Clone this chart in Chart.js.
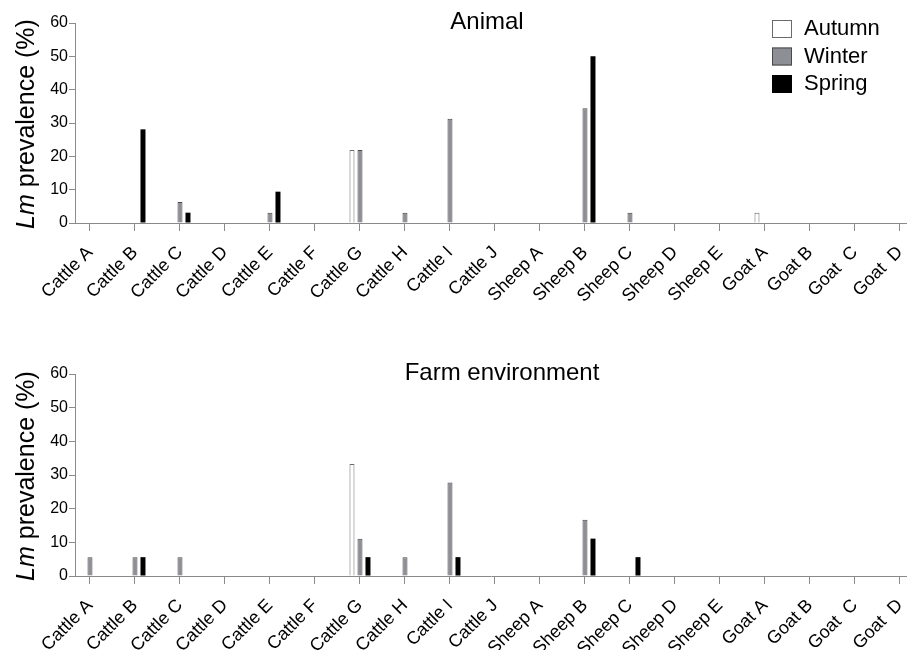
<!DOCTYPE html>
<html>
<head>
<meta charset="utf-8">
<script src="https://cdn.jsdelivr.net/npm/chart.js@4/dist/chart.umd.min.js"></script>
<style>
  html, body { margin: 0; padding: 0; background: #fff; }
  #wrap { position: relative; width: 907px; height: 650px; }
  canvas { position: absolute; left: 0; }
  #top { top: 0; }
  #bottom { top: 325px; }
</style>
</head>
<body>
<div id="wrap">
  <canvas id="top" width="907" height="325"></canvas>
  <canvas id="bottom" width="907" height="325"></canvas>
</div>
<script>
// data
const categories = ['Cattle A', 'Cattle B', 'Cattle C', 'Cattle D', 'Cattle E', 'Cattle F', 'Cattle G',
  'Cattle H', 'Cattle I', 'Cattle J', 'Sheep A', 'Sheep B', 'Sheep C', 'Sheep D', 'Sheep E',
  'Goat A', 'Goat B', 'Goat  C', 'Goat  D'];
const seasons = ['Autumn', 'Winter', 'Spring'];

const animalAutumn = [0, 0, 0, 0, 0, 0, 21.9, 0, 0, 0, 0, 0, 0, 0, 0, 3.1, 0, 0, 0];
const animalWinter = [0, 0, 6.3, 0, 3.1, 0, 21.9, 3.1, 31.3, 0, 0, 34.4, 3.1, 0, 0, 0, 0, 0, 0];
const animalSpring = [0, 28.1, 3.1, 0, 9.4, 0, 0, 0, 0, 0, 0, 50, 0, 0, 0, 0, 0, 0, 0];

const farmAutumn = [0, 0, 0, 0, 0, 0, 33.3, 0, 0, 0, 0, 0, 0, 0, 0, 0, 0, 0, 0];
const farmWinter = [5.6, 5.6, 5.6, 0, 0, 0, 11.1, 5.6, 27.8, 0, 0, 16.7, 0, 0, 0, 0, 0, 0, 0];
const farmSpring = [0, 5.6, 0, 0, 0, 0, 5.6, 0, 5.6, 0, 0, 11.1, 5.6, 0, 0, 0, 0, 0, 0];

const yTicks = [0, 10, 20, 30, 40, 50, 60];

const FONT = "'Liberation Sans', Arial, sans-serif";
const AXIS = '#8a8a8a';

const styles = [
  { backgroundColor: '#ffffff', borderColor: '#6a6a6a', borderWidth: 1 },
  { backgroundColor: '#8e8e96', borderColor: '#4a4a4a', borderWidth: 1 },
  { backgroundColor: '#000000', borderColor: '#000000', borderWidth: 0 }
];

function makeDatasets(series) {
  return series.map((vals, k) => ({
    label: seasons[k],
    data: vals.map((v, i) => ({ x: i, y: v })),
    backgroundColor: styles[k].backgroundColor,
    borderColor: styles[k].borderColor,
    borderWidth: styles[k].borderWidth,
    categoryPercentage: 0.533,
    barPercentage: 0.625
  }));
}

// title, y-axis title (with italic Lm) and optional legend
function decorations(title, titleX, showLegend) {
  return {
    id: 'decorations',
    afterDraw(chart) {
      const ctx = chart.ctx;
      const area = chart.chartArea;
      ctx.save();
      ctx.fillStyle = '#000';
      ctx.textBaseline = 'middle';

      // chart title inside plot
      ctx.font = '24px ' + FONT;
      ctx.textAlign = 'center';
      ctx.fillText(title, titleX, area.top - 1);

      // y title
      ctx.save();
      ctx.translate(27, (area.top + area.bottom) / 2 + 1);
      ctx.rotate(-Math.PI / 2);
      const it = 'italic 25px ' + FONT;
      const nm = '25px ' + FONT;
      ctx.font = it;
      const w1 = ctx.measureText('Lm').width;
      ctx.font = nm;
      const w2 = ctx.measureText(' prevalence (%)').width;
      let x = -(w1 + w2) / 2;
      ctx.textAlign = 'left';
      ctx.font = it;
      ctx.fillText('Lm', x, 0);
      ctx.font = nm;
      ctx.fillText(' prevalence (%)', x + w1, 0);
      ctx.restore();

      if (showLegend) {
        chart.data.datasets.forEach((ds, k) => {
          const bx = 772, by = 20 + k * 27.5;
          ctx.fillStyle = ds.backgroundColor;
          ctx.fillRect(bx, by, 20, 18);
          if (ds.borderWidth) {
            ctx.strokeStyle = ds.borderColor;
            ctx.lineWidth = 1;
            ctx.strokeRect(bx + 0.5, by + 0.5, 19, 17);
          }
          ctx.fillStyle = '#000';
          ctx.font = '22px ' + FONT;
          ctx.textAlign = 'left';
          ctx.fillText(ds.label, 804, by + 9);
        });
      }
      ctx.restore();
    }
  };
}

function makeChart(id, series, title, titleX, showLegend, topPad, xHeight) {
  return new Chart(document.getElementById(id), {
    type: 'bar',
    data: { datasets: makeDatasets(series) },
    options: {
      responsive: false,
      animation: false,
      layout: { padding: { top: topPad, left: 0, right: 0, bottom: 0 } },
      plugins: { legend: { display: false }, tooltip: { enabled: false } },
      scales: {
        x: {
          type: 'linear',
          min: -0.333,
          max: 18.156,
          offset: false,
          grid: { display: true, offset: false, drawOnChartArea: false, drawTicks: true, tickLength: 8, tickColor: AXIS },
          border: { display: true, color: AXIS, width: 1 },
          afterBuildTicks: s => { s.ticks = categories.map((c, i) => ({ value: i })); },
          afterFit: s => { s.height = xHeight; s.paddingLeft = 0; s.paddingRight = 0; },
          ticks: {
            autoSkip: false,
            minRotation: 45,
            maxRotation: 45,
            padding: 11,
            color: '#000',
            font: { family: FONT, size: 18 },
            callback: v => categories[v]
          }
        },
        y: {
          min: 0,
          max: 60,
          afterBuildTicks: s => { s.ticks = yTicks.map(v => ({ value: v })); },
          afterFit: s => { s.width = 75; },
          grid: { display: true, drawOnChartArea: false, drawTicks: true, tickLength: 6, tickColor: AXIS },
          border: { display: true, color: AXIS, width: 1 },
          ticks: {
            padding: 1,
            color: '#000',
            font: { family: FONT, size: 16 }
          }
        }
      }
    },
    plugins: [decorations(title, titleX, showLegend)]
  });
}

makeChart('top', [animalAutumn, animalWinter, animalSpring], 'Animal', 487, true, 23, 102);
makeChart('bottom', [farmAutumn, farmWinter, farmSpring], 'Farm environment', 502, false, 49, 74);
</script>
</body>
</html>
